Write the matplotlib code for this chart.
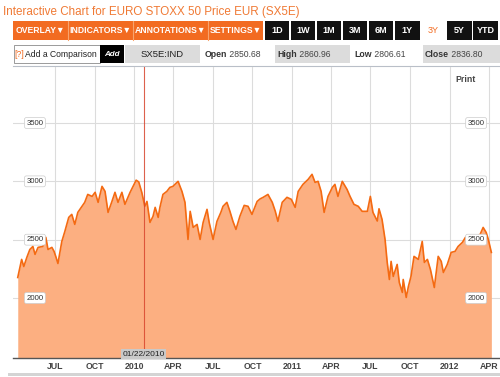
import matplotlib
matplotlib.use('Agg')
from matplotlib import pyplot as plt
from matplotlib.patches import Rectangle
import matplotlib.transforms as mtransforms
import pandas as pd

plt.rcParams['font.family'] = ['Liberation Sans', 'DejaVu Sans']

# SX5E closes
dates = [
    '2009-04-06', '2009-04-15', '2009-04-20', '2009-04-27', '2009-05-04', '2009-05-11',
    '2009-05-16', '2009-05-23', '2009-06-03', '2009-06-10', '2009-06-15', '2009-06-24',
    '2009-06-29', '2009-07-03', '2009-07-08', '2009-07-17', '2009-07-24', '2009-08-02',
    '2009-08-09', '2009-08-16', '2009-08-23', '2009-09-08', '2009-09-15', '2009-09-25',
    '2009-10-02', '2009-10-09', '2009-10-18', '2009-10-25', '2009-11-01', '2009-11-10',
    '2009-11-17', '2009-11-24', '2009-12-03', '2009-12-10', '2009-12-22', '2010-01-05',
    '2010-01-11', '2010-01-18', '2010-01-25', '2010-01-30', '2010-02-06', '2010-02-13',
    '2010-02-18', '2010-02-25', '2010-03-01', '2010-03-08', '2010-03-17', '2010-03-24',
    '2010-03-31', '2010-04-12', '2010-04-21', '2010-04-28', '2010-05-05', '2010-05-10',
    '2010-05-17', '2010-05-26', '2010-06-02', '2010-06-09', '2010-06-18', '2010-06-23',
    '2010-07-02', '2010-07-11', '2010-07-20', '2010-07-25', '2010-08-03', '2010-08-10',
    '2010-08-17', '2010-08-24', '2010-09-02', '2010-09-12', '2010-09-21', '2010-09-30',
    '2010-10-12', '2010-10-19', '2010-10-26', '2010-11-06', '2010-11-16', '2010-11-23',
    '2010-11-29', '2010-12-09', '2010-12-20', '2010-12-30', '2011-01-08', '2011-01-15',
    '2011-01-26', '2011-02-07', '2011-02-16', '2011-02-23', '2011-03-02', '2011-03-09',
    '2011-03-16', '2011-03-25', '2011-04-04', '2011-04-10', '2011-04-17', '2011-04-27',
    '2011-05-08', '2011-05-15', '2011-05-24', '2011-06-03', '2011-06-12', '2011-06-24',
    '2011-07-01', '2011-07-07', '2011-07-17', '2011-07-21', '2011-07-28', '2011-08-04',
    '2011-08-09', '2011-08-14', '2011-08-18', '2011-08-23', '2011-09-01', '2011-09-06',
    '2011-09-13', '2011-09-15', '2011-09-22', '2011-09-27', '2011-10-03', '2011-10-10',
    '2011-10-20', '2011-10-29', '2011-11-03', '2011-11-10', '2011-11-17', '2011-11-26',
    '2011-12-05', '2011-12-12', '2011-12-17', '2011-12-26', '2012-01-04', '2012-01-13',
    '2012-01-20', '2012-01-30', '2012-02-06', '2012-02-17', '2012-02-29', '2012-03-11',
    '2012-03-18', '2012-03-25', '2012-03-30', '2012-04-06',
]
closes = [
    2176, 2331, 2270, 2348, 2416, 2442,
    2374, 2434, 2442, 2520, 2416, 2434,
    2400, 2356, 2296, 2485, 2571, 2691,
    2717, 2631, 2734, 2820, 2888, 2871,
    2906, 2820, 2957, 2914, 2734, 2828,
    2906, 2820, 2906, 2803, 2906, 3010,
    2995, 2906, 2786, 2828, 2648, 2700,
    2777, 2691, 2777, 2888, 2914, 2948,
    2957, 3000, 2914, 2820, 2502, 2743,
    2605, 2631, 2502, 2648, 2760, 2648,
    2502, 2657, 2734, 2786, 2820, 2743,
    2657, 2588, 2700, 2794, 2786, 2717,
    2828, 2850, 2863, 2888, 2820, 2743,
    2657, 2820, 2863, 2846, 2777, 2914,
    2974, 3017, 3060, 2991, 3000, 2914,
    2734, 2871, 2948, 2974, 2871, 3000,
    2931, 2871, 2803, 2786, 2743, 2743,
    2871, 2734, 2660, 2765, 2674, 2502,
    2305, 2159, 2314, 2185, 2288, 2133,
    2048, 2159, 2005, 2099, 2185, 2357,
    2331, 2485, 2305, 2331, 2245, 2090,
    2357, 2314, 2219, 2288, 2391, 2400,
    2442, 2477, 2520, 2485, 2520, 2545,
    2605, 2562, 2502, 2391,
]

tick_dates = ['2009-07-01', '2009-10-01', '2010-01-01', '2010-04-01', '2010-07-01',
              '2010-10-01', '2011-01-01', '2011-04-01', '2011-07-01', '2011-10-01',
              '2012-01-01', '2012-04-01']
tick_labels = ['JUL', 'OCT', '2010', 'APR', 'JUL', 'OCT', '2011', 'APR', 'JUL', 'OCT',
               '2012', 'APR']
y_levels = [2000, 2500, 3000, 3500]

menu_buttons = ['OVERLAY\u25bc', 'INDICATORS\u25bc', 'ANNOTATIONS\u25bc', 'SETTINGS\u25bc']
range_buttons = ['1D', '1W', '1M', '3M', '6M', '1Y', '3Y', '5Y', 'YTD']
active_range = '3Y'
quote_labels = ['Open', 'High', 'Low', 'Close']
quote_values = ['2850.68', '2860.96', '2806.61', '2836.80']
marker_date = '2010-01-22'

ORANGE = '#f26b21'
FILL = '#fcaf81'
LINE = '#f46a12'


def draw_header(bg):
    # title + toolbar rows, drawn in pixel coords
    bg.text(3, 12, 'Interactive Chart for EURO STOXX 50 Price EUR (SX5E)', color='#f07a35',
            fontsize=8.4, va='center', ha='left')

    edges = [13, 68, 133, 208, 263]
    bg.add_patch(Rectangle((13, 21), 250, 19, color=ORANGE, lw=0))
    for i, name in enumerate(menu_buttons):
        x0, x1 = edges[i], edges[i + 1]
        if i > 0:
            bg.plot([x0, x0], [21, 40], color='#f8a46e', lw=0.8)
        bg.text((x0 + x1) / 2, 30.5, name, color='white', fontsize=6.2, fontweight='bold',
                ha='center', va='center')

    for i, name in enumerate(range_buttons):
        x0 = 264.5 + i * 26.1
        active = name == active_range
        bg.add_patch(Rectangle((x0, 21), 24.5, 19, color='white' if active else '#111111', lw=0))
        bg.text(x0 + 12.25, 30.5, name, color=ORANGE if active else 'white', fontsize=6.5,
                fontweight='normal' if active else 'bold', ha='center', va='center')

    # comparison box
    bg.add_patch(Rectangle((13.5, 45), 86.5, 18, facecolor='white', edgecolor='#9a9a9a', lw=0.7))
    bg.text(14.5, 54.5, '[?]', color=ORANGE, fontsize=6.2, ha='left', va='center')
    bg.text(25, 54.5, 'Add a Comparison', color='#222222', fontsize=6.2, ha='left', va='center')
    bg.add_patch(Rectangle((100, 45), 24, 18, color='#000000', lw=0))
    bg.text(112, 54.5, 'Add', color='white', fontsize=5.8, fontweight='bold', style='italic',
            ha='center', va='center')
    bg.add_patch(Rectangle((125, 45), 75, 18, color='#dcdcdc', lw=0))
    bg.text(162.5, 54.5, 'SX5E:IND', color='#222222', fontsize=6.8, ha='center', va='center')

    starts = [203, 275, 352, 423]
    widths = [72, 75, 71, 77]
    for i, (lab, val) in enumerate(zip(quote_labels, quote_values)):
        x0 = starts[i]
        if i % 2 == 1:
            bg.add_patch(Rectangle((x0, 45), widths[i], 18, color='#dcdcdc', lw=0))
        t = bg.text(x0 + 2, 54.5, lab, color='#333333', fontsize=6.3, fontweight='bold',
                    ha='left', va='center')
        bg.annotate(' ' + val, xy=(1, 0.5), xycoords=t, color='#444444', fontsize=6.2,
                    ha='left', va='center')

    bg.plot([13, 500], [65.5, 65.5], color='#b9bfc8', lw=0.8)
    # scrollbar strip under the axis
    bg.add_patch(Rectangle((8, 373), 492, 3, color='#d4d4d4', lw=0))
    bg.text(466, 80, 'Print', color='#444444', fontsize=6.3, fontweight='bold',
            ha='center', va='center')


def draw_chart(ax):
    x = pd.to_datetime(dates)
    ax.fill_between(x, closes, 1300, color=FILL, lw=0, zorder=2)
    ax.plot(x, closes, color=LINE, lw=1.2, zorder=3)

    ax.set_ylim(1486, 3980)
    ax.set_xlim(pd.Timestamp('2009-03-26'), pd.Timestamp('2012-04-26'))

    ax.set_yticks(y_levels)
    ax.set_yticklabels([])
    ax.set_xticks(pd.to_datetime(tick_dates))
    ax.set_xticklabels(tick_labels)
    ax.tick_params(axis='y', length=0)
    ax.tick_params(axis='x', length=0, pad=3, labelsize=6.3, labelcolor='#444444')
    for lab in ax.get_xticklabels():
        lab.set_fontweight('bold')
    ax.grid(True, color='#dcdcdc', lw=0.8, zorder=1)
    ax.set_axisbelow(True)

    for side in ['left', 'right', 'top']:
        ax.spines[side].set_visible(False)
    ax.spines['bottom'].set_color('#555555')
    ax.spines['bottom'].set_linewidth(1.0)

    # y labels sit inside the plot on both sides
    trans = mtransforms.blended_transform_factory(ax.transAxes, ax.transData)
    for v in y_levels:
        for xa in [0.045, 0.951]:
            ax.text(xa, v, str(v), transform=trans, fontsize=5.6, color='#333333',
                    ha='center', va='center', zorder=5,
                    bbox=dict(boxstyle='round,pad=0.25', fc='white', ec='#cccccc', lw=0.5))

    # crosshair marker
    md = pd.Timestamp(marker_date)
    ax.axvline(md, color='#d8452e', lw=0.8, alpha=0.85, zorder=4)
    ax.text(md, 1490, '01/22/2010', fontsize=6, color='#222222', ha='center', va='bottom',
            zorder=6, bbox=dict(boxstyle='square,pad=0.2', fc='#c9c9c9', ec='none'))


def main():
    fig = plt.figure(figsize=(5, 3.77), dpi=100)
    bg = fig.add_axes([0, 0, 1, 1])
    bg.set_xlim(0, 500)
    bg.set_ylim(377, 0)
    bg.axis('off')
    draw_header(bg)

    ax = fig.add_axes([13 / 500, 19 / 377, 487 / 500, 291 / 377])
    ax.patch.set_alpha(0)
    draw_chart(ax)

    fig.savefig('out.png', dpi=100)


if __name__ == '__main__':
    main()
